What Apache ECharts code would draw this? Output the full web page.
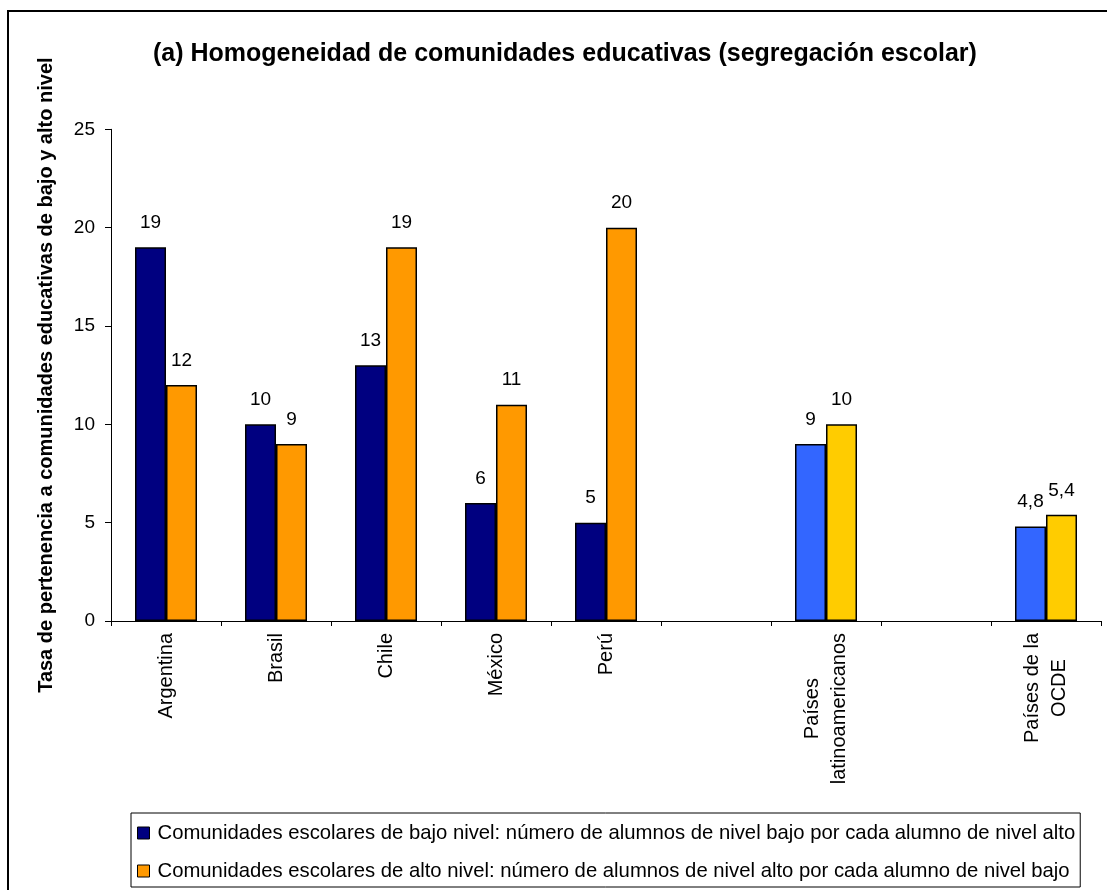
<!DOCTYPE html>
<html>
<head>
<meta charset="utf-8">
<script src="https://cdn.jsdelivr.net/npm/echarts@6/dist/echarts.min.js"></script>
<style>
html,body{margin:0;padding:0;background:#fff;}
#chart{width:1107px;height:890px;}
</style>
</head>
<body>
<div id="chart"></div>
<script>
const categories = ['Argentina', 'Brasil', 'Chile', 'México', 'Perú', '', 'Países\nlatinoamericanos', '', 'Países de la\nOCDE'];
const bajoNivel = [19, 10, 13, 6, 5, null, 9, null, 4.8];
const altoNivel = [12, 9, 19, 11, 20, null, 10, null, 5.4];
const yTicks = [0, 5, 10, 15, 20, 25];
const seriesNames = [
  'Comunidades escolares de bajo nivel: número de alumnos de nivel bajo por cada alumno de nivel alto',
  'Comunidades escolares de alto nivel: número de alumnos de nivel alto por cada alumno de nivel bajo'
];
const titleText = '(a) Homogeneidad de comunidades educativas (segregación escolar)';
const yName = 'Tasa de pertenencia a comunidades educativas de bajo y alto nivel';

const FONT = "'Liberation Sans', Arial, sans-serif";
const colBajo = '#000080', colAlto = '#FF9900', colBajoAgg = '#3366FF', colAltoAgg = '#FFCC00';
const aggregateIdx = [6, 8];

function fmt(p) { return p.value == null ? '' : String(p.value).replace('.', ','); }

const chart = echarts.init(document.getElementById('chart'));
chart.setOption({
  backgroundColor: '#fff',
  animation: false,
  textStyle: { fontFamily: FONT, color: '#000' },
  graphic: [{
    type: 'rect', silent: true, z: -10,
    shape: { x: 8, y: 11, width: 1120, height: 900 },
    style: { fill: 'none', stroke: '#000', lineWidth: 2 }
  }],
  title: {
    text: titleText,
    left: 148, top: 37,
    textStyle: { fontFamily: FONT, fontSize: 25, fontWeight: 'bold', color: '#000' }
  },
  legend: {
    orient: 'vertical',
    left: 131, top: 813,
    padding: [10, 5, 6, 6],
    borderColor: '#000', borderWidth: 1,
    itemWidth: 12, itemHeight: 12, itemGap: 18,
    textStyle: { fontFamily: FONT, fontSize: 20.3, color: '#000', lineHeight: 18, padding: [0, 0, 0, 3] },
    data: [
      { name: seriesNames[0], icon: 'rect', itemStyle: { color: colBajo, borderColor: '#000', borderWidth: 1 } },
      { name: seriesNames[1], icon: 'rect', itemStyle: { color: colAlto, borderColor: '#000', borderWidth: 1 } }
    ]
  },
  grid: { left: 111, right: 6, top: 129.3, bottom: 269, containLabel: false },
  xAxis: {
    type: 'category',
    data: categories,
    boundaryGap: true,
    axisLine: { lineStyle: { color: '#000', width: 1 } },
    axisTick: { show: true, alignWithLabel: false, length: 5, lineStyle: { color: '#000' } },
    axisLabel: {
      interval: 0, rotate: 90, margin: 12,
      fontFamily: FONT, fontSize: 20, color: '#000',
      formatter: function (v) { return v.split('\n').map(function (s) { return '{c|' + s + '}'; }).join('\n'); },
      rich: { c: { align: 'center', fontFamily: FONT, fontSize: 20, color: '#000', lineHeight: 27 } }
    }
  },
  yAxis: {
    type: 'value',
    min: 0, max: 25, interval: 5,
    name: yName,
    nameLocation: 'middle', nameRotate: 90, nameGap: 55,
    nameTextStyle: { fontFamily: FONT, fontSize: 20, fontWeight: 'bold', color: '#000' },
    axisLine: { show: true, lineStyle: { color: '#000', width: 1 } },
    axisTick: { show: true, length: 6, lineStyle: { color: '#000' } },
    splitLine: { show: false },
    axisLabel: {
      margin: 16, fontFamily: FONT, fontSize: 19, color: '#000',
      formatter: function (v) { return yTicks.indexOf(v) >= 0 ? String(v) : ''; }
    }
  },
  series: [
    {
      name: seriesNames[0], type: 'bar', data: bajoNivel,
      barWidth: 31, barGap: '0%',
      itemStyle: {
        color: function (p) { return aggregateIdx.indexOf(p.dataIndex) >= 0 ? colBajoAgg : colBajo; },
        borderColor: '#000', borderWidth: 1.5
      },
      label: { show: true, position: 'top', distance: 15, formatter: fmt, fontFamily: FONT, fontSize: 19, color: '#000' }
    },
    {
      name: seriesNames[1], type: 'bar', data: altoNivel,
      barWidth: 31, barGap: '0%',
      itemStyle: {
        color: function (p) { return aggregateIdx.indexOf(p.dataIndex) >= 0 ? colAltoAgg : colAlto; },
        borderColor: '#000', borderWidth: 1.5
      },
      label: { show: true, position: 'top', distance: 15, formatter: fmt, fontFamily: FONT, fontSize: 19, color: '#000' }
    }
  ]
});
</script>
</body>
</html>
